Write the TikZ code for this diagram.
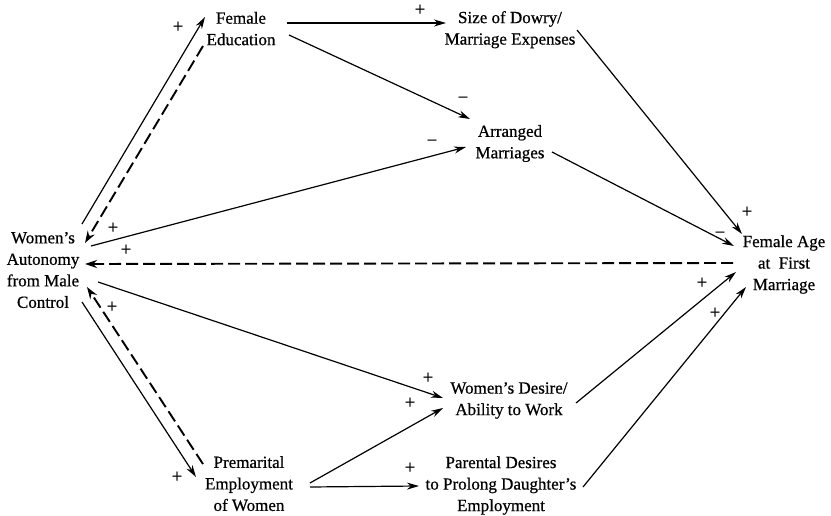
\documentclass[tikz,border=0pt]{standalone}
\usepackage{fontspec}
\setmainfont{Liberation Serif}[RawFeature={embolden=0.6}]
\usetikzlibrary{arrows.meta,calc}
\begin{document}
\begin{tikzpicture}[x=1pt,y=-1pt,
  lbl/.style={font=\fontsize{17}{21.5}\selectfont, align=center, inner sep=0pt},
  sgn/.style={font=\fontsize{19}{19}\selectfont, inner sep=0pt},
  link/.style={line width=1.2pt, -{Stealth[length=12pt,width=7pt]}},
  dlink/.style={line width=1.9pt, dash pattern=on 12pt off 5pt, -{Stealth[length=12pt,width=8pt]}}]
\useasboundingbox[fill=white] (0,0) rectangle (831,516);

% nodes
\node[lbl] (aut)  at (43,270) {Women's\\Autonomy\\from Male\\Control};
\node[lbl] (fedu) at (241,28.6) {Female\\Education};
\node[lbl] (dowry) at (510,29.7) {Size of Dowry/\\Marriage Expenses};
\node[lbl] (arr) at (510,143.5) {Arranged\\Marriages};
\node[lbl] (fage) at (784,264.5) {Female Age\\at\ \ First\\Marriage};
\node[lbl] (desire) at (509,400.5) {Women's Desire/\\Ability to Work};
\node[lbl] (par) at (501,485.5) {Parental Desires\\to Prolong Daughter's\\Employment};
\node[lbl] (prem) at (249,483.6) {Premarital\\Employment\\of Women};

% connectors
\draw[link]  ($(aut.center)+(39,-46)$) -- ($(fedu.center)+(-36,-11.6)$);
\draw[dlink] ($(fedu.center)+(-38,17.4)$) -- ($(aut.center)+(42,-27)$);
\draw[link]  ($(aut.center)+(48,-24)$) -- ($(arr.center)+(-44,3.5)$);
\draw[link]  ($(fedu.center)+(46,-5.6)$) -- ($(dowry.center)+(-64,-6.7)$);
\draw[link]  ($(fedu.center)+(48,6.4)$) -- ($(arr.center)+(-40,-24.5)$);
\draw[link]  ($(dowry.center)+(67,0.3)$) -- ($(fage.center)+(-42,-30.5)$);
\draw[link]  ($(arr.center)+(42,8.5)$) -- ($(fage.center)+(-50,-18.5)$);
\draw[dlink] ($(fage.center)+(-51,-1.5)$) -- ($(aut.center)+(42,-6)$);
\draw[link]  ($(aut.center)+(55,12)$) -- ($(desire.center)+(-66,-2.5)$);
\draw[link]  ($(prem.center)+(61,-0.6)$) -- ($(desire.center)+(-66,7.5)$);
\draw[link]  ($(prem.center)+(61,3.4)$) -- ($(par.center)+(-82,0.5)$);
\draw[link]  ($(desire.center)+(67,2.5)$) -- ($(fage.center)+(-48,7.5)$);
\draw[link]  ($(par.center)+(82,1.5)$) -- ($(fage.center)+(-38,22.5)$);
\draw[link]  ($(aut.center)+(39,32)$) -- ($(prem.center)+(-53,-6.6)$);
\draw[dlink] ($(prem.center)+(-46,-19.6)$) -- ($(aut.center)+(44,17)$);

% signs
\node[sgn] (s1)  at (178,27)  {+};
\node[sgn] (s2)  at (113,228) {+};
\node[sgn] (s3)  at (126,250) {+};
\node[sgn] (s4)  at (420,10)  {+};
\node[sgn] (s5)  at (463,100) {−};
\node[sgn] (s6)  at (432,143) {−};
\node[sgn] (s7)  at (747,212) {+};
\node[sgn] (s8)  at (720,235) {−};
\node[sgn] (s9)  at (428,378) {+};
\node[sgn] (s10) at (410,403) {+};
\node[sgn] (s11) at (410,468) {+};
\node[sgn] (s12) at (702,283) {+};
\node[sgn] (s13) at (715,313) {+};
\node[sgn] (s14) at (177,477) {+};
\node[sgn] (s15) at (112,307) {+};
\end{tikzpicture}
\end{document}
